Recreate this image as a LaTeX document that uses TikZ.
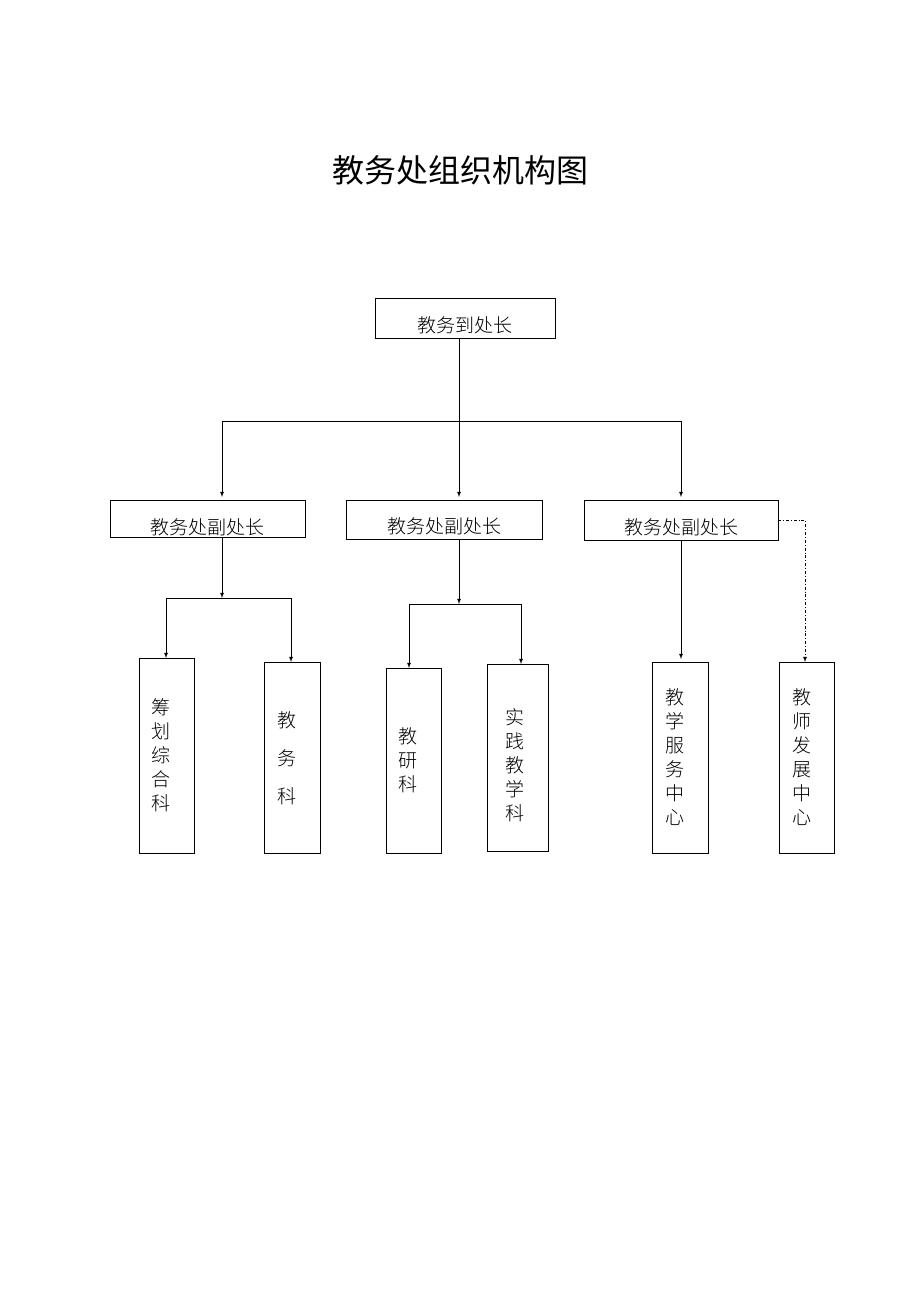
\documentclass[tikz,border=0pt]{standalone}
\usepackage{fontspec}
\newfontfamily\cjk{Noto Sans CJK SC}
\newfontfamily\cjkl{Noto Sans CJK SC Light}
\begin{document}
\begin{tikzpicture}[x=1pt,y=-1pt,
  box/.style={draw,line width=0.8pt,inner sep=0},
  lab/.style={font=\cjkl\fontsize{19}{24}\selectfont},
  vlab/.style={font=\cjkl\fontsize{19}{24}\selectfont,align=center},
  arr/.style={line width=0.8pt,-latex},
  ln/.style={line width=0.8pt}]
\useasboundingbox[fill=white] (0,0) rectangle (920,1302);
\node[font=\cjk\fontsize{32}{36}\selectfont] (title) at (460,170) {教务处组织机构图};
% boxes
\draw[box] (375,298) rectangle (555,338);
\node[lab] (top) at (465,325) {教务到处长};
\coordinate (topb) at (459,338);
\draw[box] (110,500) rectangle (305,537);
\node[lab] at (207,527) {教务处副处长};
\draw[box] (346,500) rectangle (542,539);
\node[lab] at (444,526) {教务处副处长};
\draw[box] (584,500) rectangle (778,540);
\node[lab] at (681,527) {教务处副处长};
\coordinate (d1t) at (222,497); \coordinate (d2t) at (459,497); \coordinate (d3t) at (681,497);
\coordinate (d1b) at (222,537); \coordinate (d2b) at (459,539); \coordinate (d3b) at (681,540);
\draw[box] (139,658) rectangle (194,853);
\node[vlab] at (161,755) {筹\\划\\综\\合\\科};
\draw[box] (264,662) rectangle (320,853);
\node[vlab,font=\cjkl\fontsize{19}{38}\selectfont] at (287,758) {教\\务\\科};
\draw[box] (386,668) rectangle (441,853);
\node[vlab] at (408,760) {教\\研\\科};
\draw[box] (487,664) rectangle (548,851);
\node[vlab] at (515,765) {实\\践\\教\\学\\科};
\draw[box] (652,662) rectangle (708,853);
\node[vlab] at (675,757) {教\\学\\服\\务\\中\\心};
\draw[box] (779,662) rectangle (834,853);
\node[vlab] at (802,757) {教\\师\\发\\展\\中\\心};
% connectors
\draw[arr] (topb) -- (d2t);
\coordinate (hl) at (222,421); \coordinate (hr) at (681,421);
\draw[arr] (hl) -- (d1t);
\draw[ln] (hl) -- (hr);
\draw[arr] (hr) -- (d3t);
\coordinate (j1) at (222,598);
\draw[arr] (d1b) -- (j1);
\draw[ln] (166,598) -- (291,598);
\draw[arr] (166,598) -- (166,658);
\draw[arr] (291,598) -- (291,662);
\coordinate (j2) at (459,604);
\draw[arr] (d2b) -- (j2);
\draw[ln] (409,604) -- (521,604);
\draw[arr] (409,604) -- (409,668);
\draw[arr] (521,604) -- (521,664);
\draw[arr] (d3b) -- (681,659);
\draw[arr,dash dot] (778,520) -- (805,520) -- (805,662);
\end{tikzpicture}
\end{document}
